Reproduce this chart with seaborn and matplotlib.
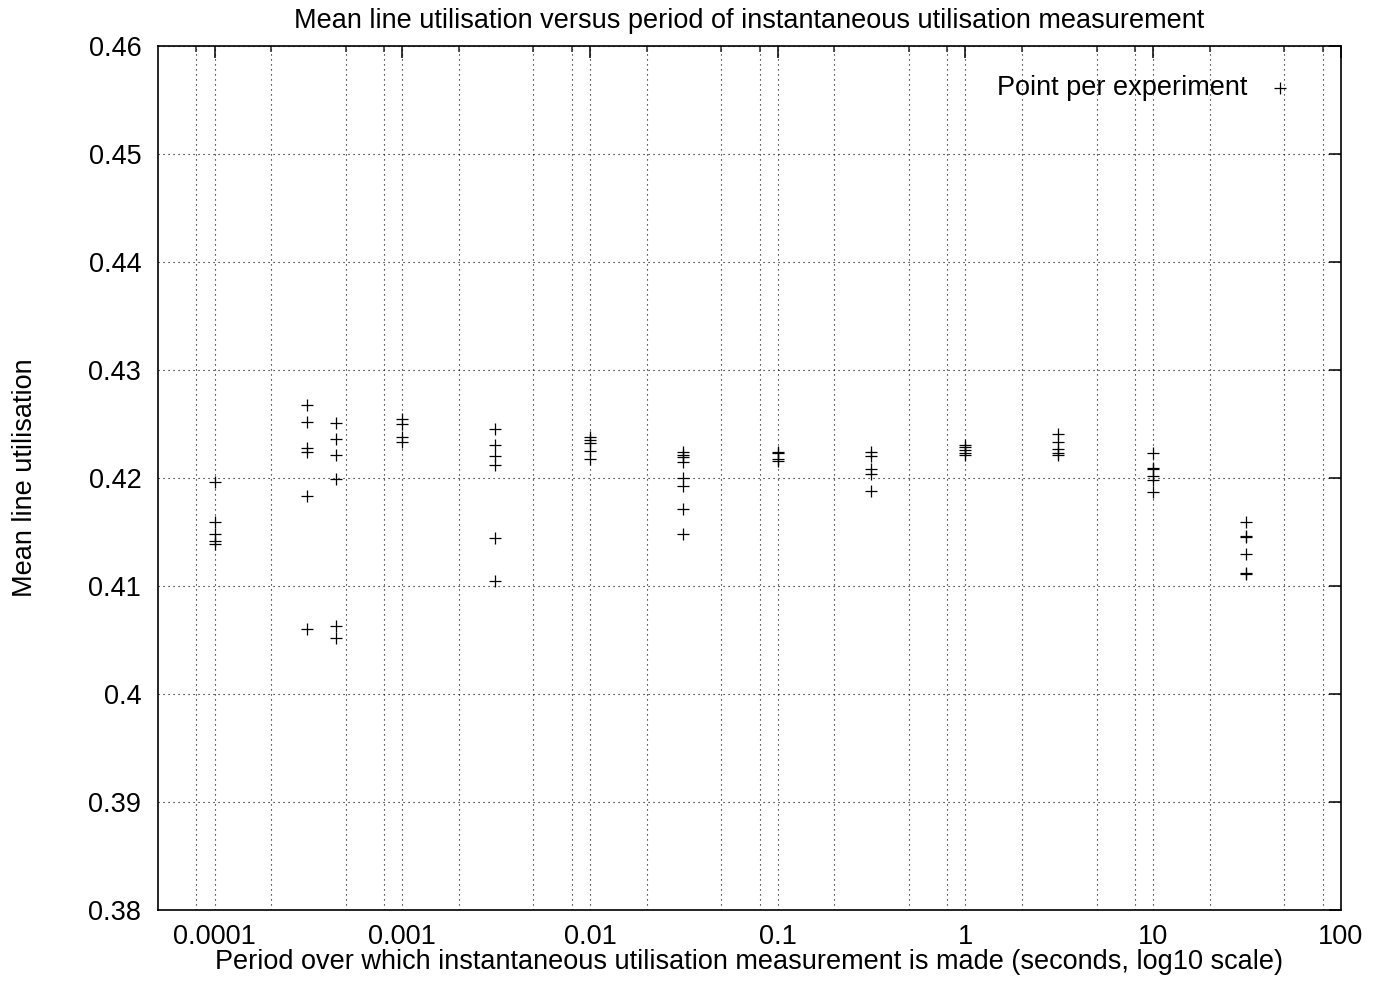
import numpy as np
import pandas as pd
import matplotlib
matplotlib.use("Agg")
import matplotlib.pyplot as plt
import matplotlib.ticker as mticker
import seaborn as sns

# measurement periods (seconds)
periods = [0.0001, 0.0003125, 0.000443, 0.001, 0.003125, 0.01, 0.03125,
           0.1, 0.3125, 1, 3.125, 10, 31.25]

# mean utilisation, one value per experiment, per period
u_100us = [0.4196, 0.4159, 0.4148, 0.4142, 0.4139]
u_312us = [0.4268, 0.4252, 0.4228, 0.4224, 0.4183, 0.4060]
u_443us = [0.4251, 0.4236, 0.4221, 0.4199, 0.4063, 0.4052]
u_1ms = [0.4255, 0.4250, 0.4238, 0.4233]
u_3ms = [0.4245, 0.4231, 0.4220, 0.4212, 0.4144, 0.4105]
u_10ms = [0.4238, 0.4235, 0.4232, 0.4225, 0.4218]
u_31ms = [0.4224, 0.4221, 0.4219, 0.4215, 0.4200, 0.4193, 0.4171, 0.4148]
u_100ms = [0.4224, 0.4223, 0.4218, 0.4216]
u_312ms = [0.4224, 0.4220, 0.4208, 0.4204, 0.4188]
u_1s = [0.4231, 0.4229, 0.4226, 0.4223, 0.4221]
u_3s = [0.4241, 0.4233, 0.4227, 0.4223, 0.4221]
u_10s = [0.4223, 0.4209, 0.4208, 0.4202, 0.4198, 0.4187]
u_31s = [0.4159, 0.4146, 0.4145, 0.4130, 0.4112, 0.4111]

all_u = [u_100us, u_312us, u_443us, u_1ms, u_3ms, u_10ms, u_31ms,
         u_100ms, u_312ms, u_1s, u_3s, u_10s, u_31s]

# axis ticks
x_major = [0.0001, 0.001, 0.01, 0.1, 1, 10, 100]
x_labels = ['0.0001', '0.001', '0.01', '0.1', '1', '10', '100']
y_major = [0.38, 0.39, 0.40, 0.41, 0.42, 0.43, 0.44, 0.45, 0.46]
y_labels = ['0.38', '0.39', '0.4', '0.41', '0.42', '0.43', '0.44', '0.45', '0.46']

rows = []
for p, vals in zip(periods, all_u):
    for v in vals:
        rows.append({'Period': p, 'Utilisation': v})
df = pd.DataFrame(rows)

sns.set_theme(style="white")
plt.rcParams['font.family'] = ['Liberation Sans', 'DejaVu Sans']
plt.rcParams['text.color'] = 'black'
plt.rcParams['axes.labelcolor'] = 'black'

FS = 19.5

fig = plt.figure(figsize=(13.79, 9.82), dpi=100)
ax = fig.add_axes([0.1146, 0.0733, 0.8578, 0.8799])

sns.scatterplot(data=df, x='Period', y='Utilisation', marker='+', color='black',
                s=85, linewidth=0.9, ax=ax, label='Point per experiment')

ax.set_xscale('log')
ax.set_xlim(5e-5, 100)
ax.set_ylim(0.38, 0.46)

# minor ticks at 2, 5, 8 within each decade
x_minor = [m * 10.0 ** e for e in range(-5, 2) for m in (2, 5, 8) if 5e-5 < m * 10.0 ** e < 100]
ax.set_xticks(x_major)
ax.set_xticklabels(x_labels)
ax.set_xticks(x_minor, minor=True)
ax.xaxis.set_minor_formatter(mticker.NullFormatter())
ax.set_yticks(y_major)
ax.set_yticklabels(y_labels)
ax.set_xlim(5e-5, 100)
ax.set_ylim(0.38, 0.46)

ax.grid(which='major', axis='both', color='black', linestyle=(0, (1, 3.5)), linewidth=0.8)
ax.grid(which='minor', axis='x', color='black', linestyle=(0, (1, 3.5)), linewidth=0.8)
ax.set_axisbelow(True)

for sp in ax.spines.values():
    sp.set_color('black')
    sp.set_linewidth(1.2)

ax.tick_params(which='major', direction='in', length=8.5, width=1.1, top=True, right=True,
               labelsize=FS, colors='black')
ax.tick_params(which='minor', direction='in', length=4.3, width=1.1, top=True, right=False)
ax.tick_params(axis='y', which='major', pad=12)
ax.tick_params(axis='x', which='major', pad=10)

ax.set_title('Mean line utilisation versus period of instantaneous utilisation measurement',
             fontsize=FS, pad=13, color='black')
ax.set_xlabel('Period over which instantaneous utilisation measurement is made (seconds, log10 scale)',
              fontsize=FS, labelpad=-1)
ax.set_ylabel('Mean line utilisation', fontsize=FS, labelpad=36)

ax.legend(loc='upper right', bbox_to_anchor=(0.969, 0.979), markerfirst=False, frameon=False,
          fontsize=FS, handlelength=1.0, handletextpad=0.7, borderaxespad=0)

fig.savefig('out.png', dpi=100)
